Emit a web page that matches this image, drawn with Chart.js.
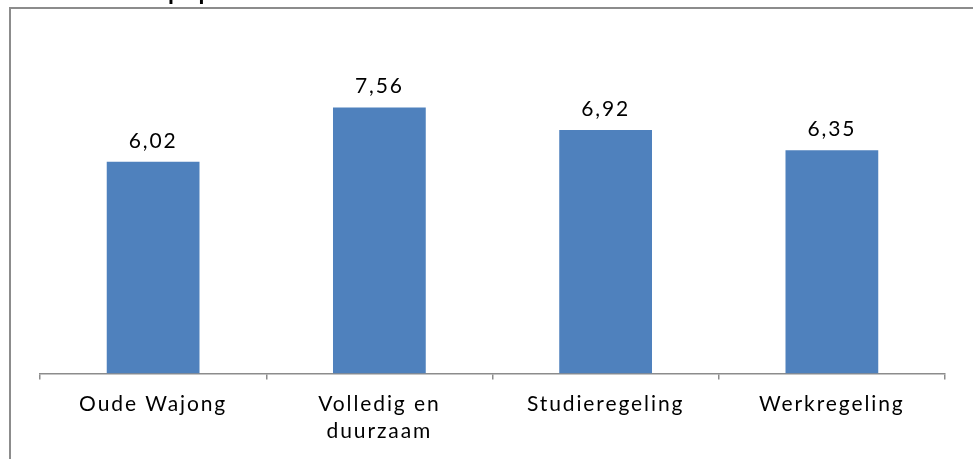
<!DOCTYPE html>
<html>
<head>
<meta charset="utf-8">
<script src="https://cdn.jsdelivr.net/npm/chart.js@4"></script>
<style>
  html, body { margin: 0; padding: 0; background: #fff; }
  #wrap { width: 973px; height: 459px; position: relative; }
</style>
</head>
<body>
<div id="wrap"><canvas id="myChart"></canvas></div>
<script>
const categories = ['Oude Wajong', ['Volledig en', 'duurzaam'], 'Studieregeling', 'Werkregeling'];
const scores = [6.02, 7.56, 6.92, 6.35];
const titleText = 'populaties';

// frame lines, cut-off title and value labels
const extras = {
    id: 'extras',
    beforeUpdate(chart) { chart.ctx.letterSpacing = '1.9px'; },
    beforeDraw(chart) {
        const ctx = chart.ctx;
        ctx.letterSpacing = '1.9px';
        ctx.save();
        ctx.strokeStyle = '#8c8c8c';
        ctx.lineWidth = 2;
        ctx.beginPath();
        ctx.moveTo(10, 459);
        ctx.lineTo(10, 8);
        ctx.lineTo(973, 8);
        ctx.stroke();
        ctx.fillStyle = '#000';
        ctx.font = 'bold 24px Lato';
        ctx.letterSpacing = '1.5px';
        ctx.textBaseline = 'alphabetic';
        ctx.textAlign = 'left';
        ctx.fillText(titleText, 168, 0);
        ctx.restore();
    },
    afterDatasetsDraw(chart) {
        const ctx = chart.ctx;
        const meta = chart.getDatasetMeta(0);
        ctx.save();
        ctx.letterSpacing = '1.9px';
        ctx.fillStyle = '#000';
        ctx.font = '21px Lato';
        ctx.textAlign = 'center';
        ctx.textBaseline = 'middle';
        meta.data.forEach((bar, i) => {
            ctx.fillText(scores[i].toFixed(2).replace('.', ','), bar.x, bar.y - 21);
        });
        ctx.restore();
    }
};

const ctx = document.getElementById('myChart').getContext('2d');
const chart = new Chart(ctx, {
    type: 'bar',
    data: {
        labels: categories,
        datasets: [{
            data: scores,
            backgroundColor: '#4f81bd',
            borderWidth: 0,
            categoryPercentage: 1,
            barPercentage: 0.41
        }]
    },
    options: {
        responsive: true,
        maintainAspectRatio: false,
        animation: false,
        layout: { padding: { left: 40, right: 28, top: 57, bottom: 3 } },
        plugins: {
            legend: { display: false },
            tooltip: { enabled: false }
        },
        scales: {
            x: {
                grid: {
                    offset: true,
                    drawOnChartArea: false,
                    drawTicks: true,
                    tickLength: 6,
                    color: '#8c8c8c',
                    lineWidth: 1.5
                },
                border: { color: '#8c8c8c', width: 1.5 },
                ticks: {
                    color: '#000',
                    font: { family: 'Lato', size: 21, lineHeight: 1.3 },
                    padding: 11,
                    maxRotation: 0
                }
            },
            y: {
                display: false,
                min: 0,
                max: 9
            }
        }
    },
    plugins: [extras]
});
</script>
</body>
</html>
